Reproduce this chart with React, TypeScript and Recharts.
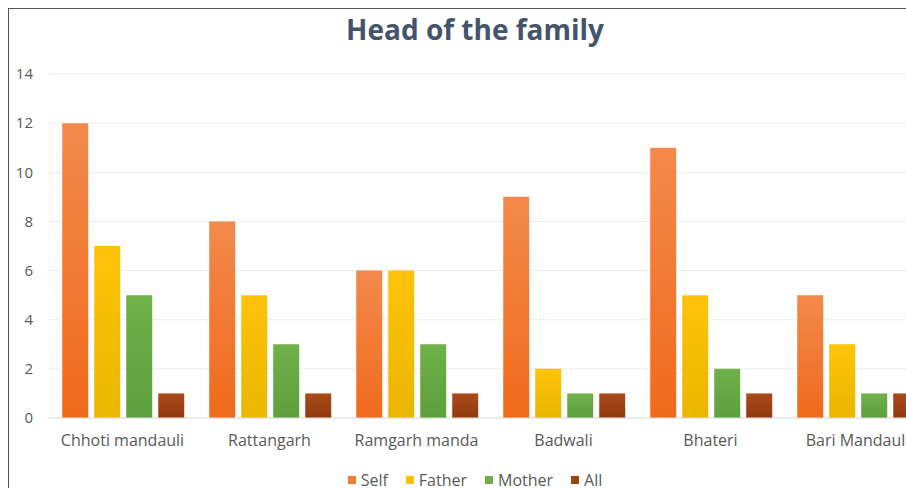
import { BarChart, Bar, XAxis, YAxis, CartesianGrid } from "recharts"

const villages = ["Chhoti mandauli", "Rattangarh", "Ramgarh manda", "Badwali", "Bhateri", "Bari Mandauli"]
const self = [12, 8, 6, 9, 11, 5]
const father = [7, 5, 6, 2, 5, 3]
const mother = [5, 3, 3, 1, 2, 1]
const all = [1, 1, 1, 1, 1, 1]
const yTicks = [0, 2, 4, 6, 8, 10, 12, 14]

const data = villages.map((name, i) => ({
  name,
  Self: self[i],
  Father: father[i],
  Mother: mother[i],
  All: all[i],
}))

const series = [
  { key: "Self", top: "#f28a4c", bottom: "#f06a1c", legend: "#ed7d31" },
  { key: "Father", top: "#ffc30a", bottom: "#eab600", legend: "#ffc000" },
  { key: "Mother", top: "#6fb14a", bottom: "#5c9f3c", legend: "#70ad47" },
  { key: "All", top: "#ac4a1a", bottom: "#8f3a10", legend: "#9e480e" },
]

const font = "'Open Sans', 'Liberation Sans', sans-serif"

export default function App() {
  return (
    <div
      style={{
        position: "fixed",
        left: 8,
        top: 8,
        width: 898,
        height: 480,
        overflow: "hidden",
        background: "#fff",
        borderTop: "1px solid #555",
        borderLeft: "1px solid #555",
        boxSizing: "border-box",
      }}
    >
      <div style={{ position: "relative", width: 932, height: 490 }}>
        <div
          style={{
            position: "absolute",
            top: 1,
            left: 0,
            width: 932,
            textAlign: "center",
            fontFamily: font,
            fontWeight: 700,
            fontSize: 28,
            color: "#44546a",
          }}
        >
          Head of the family
        </div>
        <BarChart
          width={932}
          height={490}
          data={data}
          margin={{ top: 65, right: 10, left: 0, bottom: 41 }}
          barCategoryGap="9%"
          barGap={6}
        >
          <defs>
            {series.map((s) => (
              <linearGradient key={s.key} id={`grad${s.key}`} x1="0" y1="0" x2="0" y2="1">
                <stop offset="0%" stopColor={s.top} />
                <stop offset="100%" stopColor={s.bottom} />
              </linearGradient>
            ))}
          </defs>
          <CartesianGrid stroke="#ececec" vertical={false} />
          <XAxis
            dataKey="name"
            axisLine={{ stroke: "#e0e0e0" }}
            tickLine={false}
            tick={{ fill: "#595959", fontSize: 16, fontFamily: font }}
            tickMargin={11}
            height={40}
            interval={0}
          />
          <YAxis
            domain={[0, 14]}
            ticks={yTicks}
            axisLine={false}
            tickLine={false}
            width={40}
            tickMargin={10}
            tick={{ fill: "#595959", fontSize: 15, fontFamily: font }}
          />
          {series.map((s) => (
            <Bar key={s.key} dataKey={s.key} fill={`url(#grad${s.key})`} isAnimationActive={false} />
          ))}
        </BarChart>
        <div
          style={{
            position: "absolute",
            top: 461,
            left: 0,
            width: 932,
            display: "flex",
            justifyContent: "center",
            gap: 18,
            fontFamily: font,
            fontSize: 16,
            color: "#595959",
            lineHeight: "20px",
          }}
        >
          {series.map((s) => (
            <span key={s.key} style={{ display: "flex", alignItems: "center" }}>
              <span style={{ width: 8, height: 8, background: s.legend, marginRight: 5, display: "inline-block" }} />
              {s.key}
            </span>
          ))}
        </div>
      </div>
    </div>
  )
}
